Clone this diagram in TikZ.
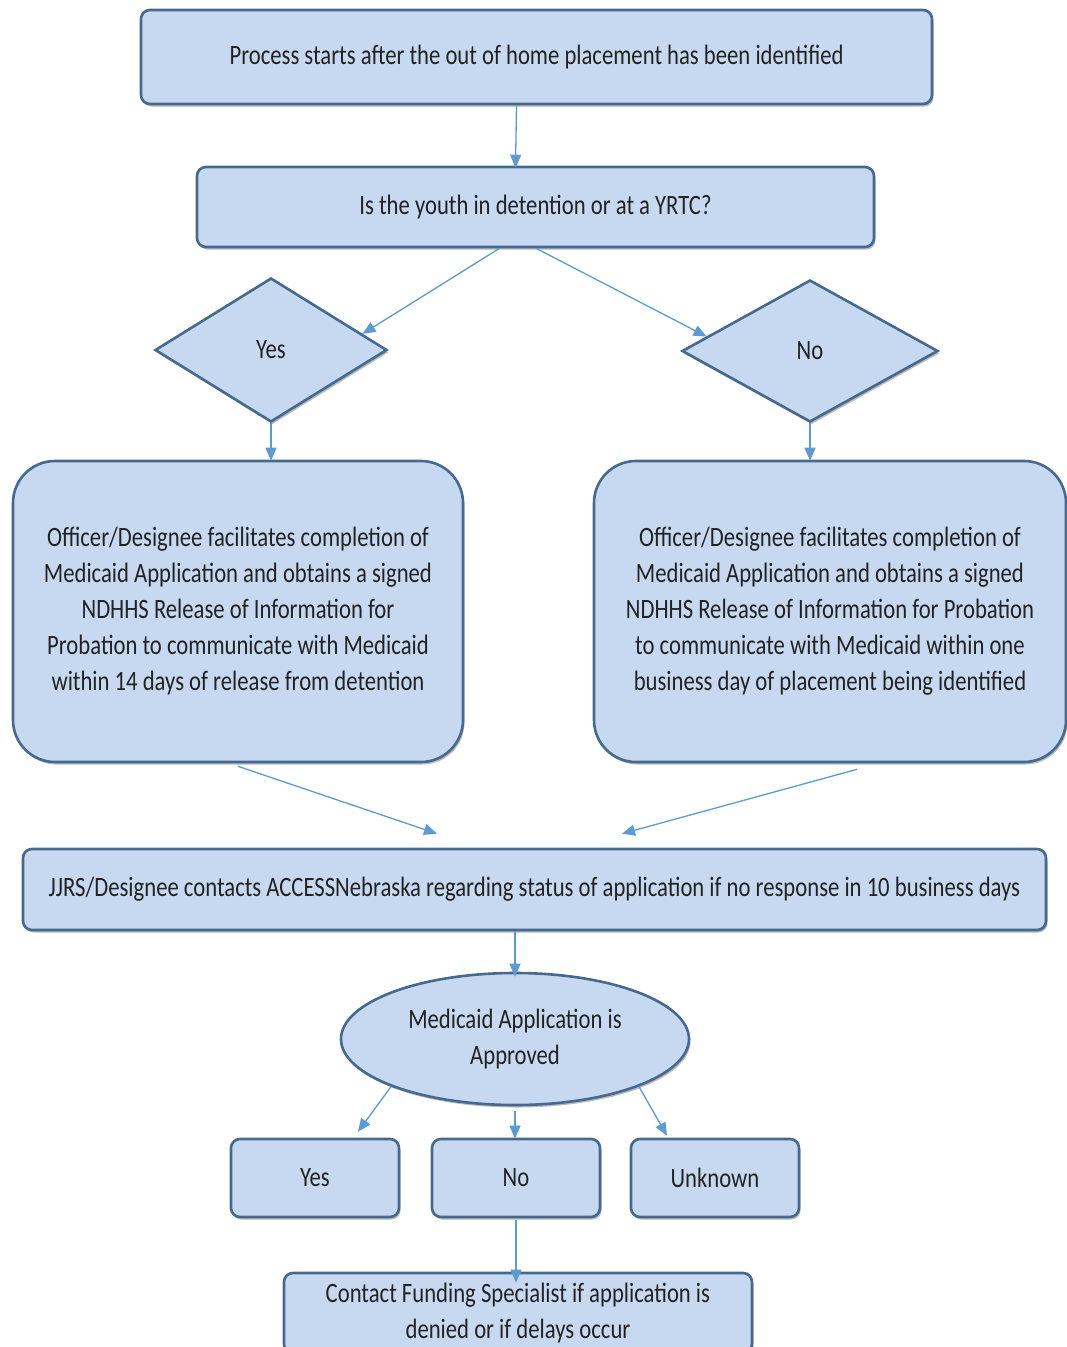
\documentclass[tikz,border=0pt]{standalone}
\usepackage{fontspec}
\setmainfont{Carlito}[FakeStretch=0.81]
\usetikzlibrary{shapes.geometric,arrows.meta,calc,shadows}
\definecolor{boxfill}{HTML}{C6D9F1}
\definecolor{boxedge}{HTML}{45698F}
\definecolor{arrowc}{HTML}{5B9BD5}
\definecolor{txt}{HTML}{222222}
\tikzset{
  base/.style={fill=boxfill, draw=boxedge, line width=2.6pt, text=txt, inner sep=0pt,
     font=\fontsize{28}{36}\selectfont, align=center,
     drop shadow={shadow xshift=1.5pt, shadow yshift=-2.5pt, fill=black!45, opacity=0.6}},
  flatbox/.style={base, rectangle, rounded corners=9pt},
  bigbox/.style={base, rectangle, rounded corners=42pt},
  decision/.style={base, diamond},
  oval/.style={base, ellipse},
  conn/.style={draw=arrowc, line width=1.3pt, -{Triangle[length=13pt,width=11pt]}}
}
\begin{document}
\begin{tikzpicture}[x=1pt,y=-1pt]
\clip (0,0) rectangle (1067,1347);
\fill[white] (0,0) rectangle (1067,1347);

\node[flatbox, minimum width=791pt, minimum height=94pt] (top) at (536.5,57) {Process starts after the out of home placement has been identified};
\node[flatbox, minimum width=677pt, minimum height=80pt] (q) at (535.5,207) {Is the youth in detention or at a YRTC?};
\node[decision, minimum width=232pt, minimum height=144pt] (dy) at (271,350) {Yes};
\node[decision, minimum width=256pt, minimum height=142pt] (dn) at (810,351) {No};
\node[bigbox, minimum width=450pt, minimum height=301pt] (ly) at (238,611.5) {Officer/Designee facilitates completion of\\Medicaid Application and obtains a signed\\NDHHS Release of Information for\\Probation to communicate with Medicaid\\within 14 days of release from detention};
\node[bigbox, minimum width=472pt, minimum height=301pt] (rn) at (830,611.5) {Officer/Designee facilitates completion of\\Medicaid Application and obtains a signed\\NDHHS Release of Information for Probation\\to communicate with Medicaid within one\\business day of placement being identified};
\node[flatbox, minimum width=1023pt, minimum height=81pt] (jj) at (534.5,889.5) {JJRS/Designee contacts ACCESSNebraska regarding status of application if no response in 10 business days};
\node[oval, minimum width=348pt, minimum height=132pt] (ell) at (515,1039) {Medicaid Application is\\Approved};
\node[flatbox, minimum width=168pt, minimum height=78pt] (by) at (315,1178) {Yes};
\node[flatbox, minimum width=168pt, minimum height=78pt] (bn) at (516,1178) {No};
\node[flatbox, minimum width=168pt, minimum height=78pt] (bu) at (715,1178) {Unknown};
\node[flatbox, minimum width=468pt, minimum height=80pt] (fs) at (518,1313) {Contact Funding Specialist if application is\\denied or if delays occur};

\coordinate (qa) at ([xshift=-36pt]q.south);
\coordinate (qb) at ([xshift=0.5pt]q.south);
\coordinate (dyin) at ($(dy.north)!0.78!(dy.east)$);
\coordinate (dnin) at ($(dn.west)!0.2!(dn.north)$);
\coordinate (lyout) at ([yshift=-3pt]ly.south);
\coordinate (rnout) at ([xshift=27pt,yshift=-6pt]rn.south);
\coordinate (jjl) at ($(jj.north)+(-97.5,-14)$);
\coordinate (jjr) at ($(jj.north)+(87.5,-14)$);
\coordinate (byin) at ($(by.north)+(43,-6)$);
\coordinate (buin) at ($(bu.north)+(-48,-2)$);

\draw[conn] ([xshift=-20pt]top.south) -- ([xshift=-20pt,yshift=-2pt]q.north);
\draw[conn] (qa) -- (dyin);
\draw[conn] (qb) -- (dnin);
\draw[conn] (dy.south) -- ([yshift=-1pt]dy.south |- ly.north);
\draw[conn] (dn.south) -- ([yshift=-1pt]dn.south |- rn.north);
\draw[conn] (lyout) -- (jjl);
\draw[conn] (rnout) -- (jjr);
\draw[conn] (ell.north |- jj.south) -- ([yshift=-5pt]ell.north);
\draw[conn] (ell.south west) -- (byin);
\draw[conn] ([yshift=-5pt]ell.south) -- ([yshift=-1pt]ell.south |- bn.north);
\draw[conn] (ell.south east) -- (buin);
\draw[conn] ([yshift=-2pt]bn.south) -- ([yshift=-11pt]bn.south |- fs.north);
\end{tikzpicture}
\end{document}
